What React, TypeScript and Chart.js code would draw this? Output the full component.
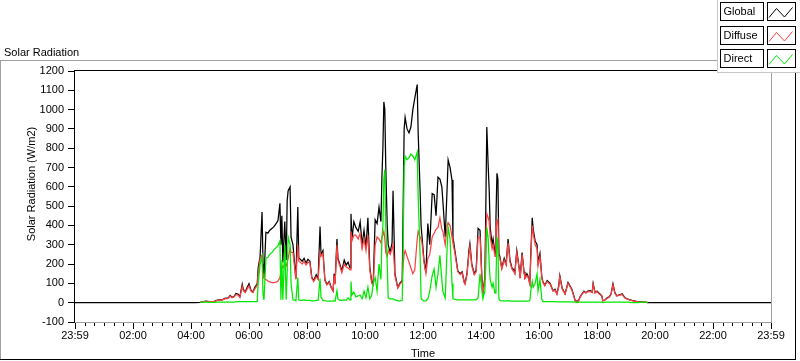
import React, { useEffect, useRef } from "react";
import { Chart, registerables } from "chart.js";

Chart.register(...registerables);

const FONT = "'Liberation Sans', Arial, sans-serif";

// Sample times (minutes after midnight)
const timeMin = [
  0, 248, 259, 265, 271, 279, 288, 296, 304, 310,
  317, 321, 325, 329, 333, 337, 341, 346, 348, 352,
  356, 360, 364, 368, 372, 377, 379, 383, 387, 389,
  391, 395, 399, 403, 408, 412, 416, 420, 424, 426,
  428, 430, 434, 437, 439, 441, 445, 447, 451, 455,
  457, 461, 463, 466, 470, 474, 478, 482, 486, 490,
  494, 499, 503, 507, 509, 513, 517, 521, 526, 530,
  534, 536, 538, 542, 544, 548, 552, 557, 561, 565,
  569, 571, 573, 577, 581, 586, 590, 594, 598, 602,
  606, 610, 614, 617, 621, 625, 629, 633, 635, 637,
  639, 641, 643, 646, 648, 652, 656, 658, 662, 666,
  668, 672, 677, 679, 681, 683, 687, 691, 695, 699,
  703, 708, 710, 714, 716, 718, 722, 726, 730, 734,
  739, 743, 747, 751, 755, 759, 761, 766, 770, 772,
  776, 780, 782, 786, 790, 792, 797, 801, 805, 807,
  811, 815, 817, 821, 826, 830, 834, 838, 842, 844,
  848, 850, 852, 855, 857, 859, 863, 865, 869, 871,
  873, 875, 877, 879, 883, 888, 892, 896, 900, 904,
  908, 910, 914, 919, 921, 925, 929, 931, 935, 937,
  941, 943, 946, 948, 952, 956, 958, 962, 966, 968,
  972, 977, 983, 989, 993, 997, 1001, 1003, 1008, 1014,
  1020, 1024, 1028, 1035, 1039, 1041, 1045, 1049, 1053, 1057,
  1061, 1066, 1070, 1072, 1076, 1080, 1084, 1090, 1092, 1097,
  1101, 1105, 1109, 1113, 1117, 1121, 1126, 1132, 1138, 1144,
  1152, 1163, 1175, 1185, 1190, 1440,
];

const globalW = [
  0, 0, 2, 6, 8, 5, 7, 15, 14, 22,
  25, 38, 28, 32, 48, 45, 30, 95, 70, 55,
  78, 98, 65, 55, 80, 98, 180, 240, 470, 200,
  130, 365, 360, 375, 385, 395, 410, 425, 515, 300,
  450, 210, 420, 220, 530, 580, 600, 340, 300, 180,
  125, 495, 230, 225, 215, 230, 205, 225, 215, 130,
  115, 145, 125, 395, 250, 270, 120, 95, 110, 80,
  62, 150, 100, 330, 230, 200, 165, 220, 195, 210,
  180, 460, 330, 420, 390, 370, 420, 300, 375, 285,
  440, 180, 110, 100, 430, 410, 495, 420, 650, 800,
  1040, 1000, 700, 400, 300, 260, 310, 580, 150, 100,
  80, 100, 115, 500, 900, 960, 900, 880, 910, 1000,
  1060, 1130, 880, 580, 400, 340, 220, 155, 410, 300,
  565, 560, 450, 650, 640, 600, 530, 340, 600, 740,
  700, 635, 340, 270, 200, 165, 150, 160, 110, 100,
  150, 270, 305, 200, 150, 170, 385, 375, 120, 52,
  130, 500, 910, 700, 580, 390, 300, 330, 255, 450,
  670, 640, 255, 240, 180, 230, 200, 330, 220, 180,
  170, 155, 270, 180, 130, 260, 160, 130, 150, 140,
  100, 250, 440, 380, 320, 300, 210, 255, 130, 110,
  90, 115, 100, 62, 70, 46, 90, 140, 75, 46,
  105, 88, 70, 10, 10, 5, 30, 46, 60, 52,
  60, 62, 55, 100, 52, 60, 50, 36, 10, 15,
  25, 30, 45, 98, 52, 36, 40, 46, 25, 18,
  12, 6, 4, 0, 0, 0,
];

const diffuseW = [
  null, null, 2, 5, 6, 5, 6, 13, 13, 20,
  22, 35, 26, 30, 42, 40, 28, 85, 65, 52,
  70, 88, 60, 52, 72, 90, 150, 230, 245, 150,
  125, 120, 112, 108, 104, 104, 106, 112, 130, 160,
  190, 180, 200, 190, 210, 230, 280, 260, 260, 170,
  120, 300, 215, 210, 200, 215, 195, 210, 205, 125,
  110, 135, 120, 260, 240, 255, 115, 92, 105, 78,
  60, 140, 95, 300, 220, 190, 155, 200, 185, 180,
  170, 370, 320, 350, 350, 330, 360, 280, 330, 270,
  350, 170, 100, 90, 300, 340, 330, 310, 340, 350,
  370, 330, 260, 240, 270, 250, 280, 300, 140, 95,
  75, 95, 110, 200, 250, 270, 240, 210, 180, 150,
  170, 330, 370, 340, 330, 310, 210, 150, 230, 250,
  340, 360, 380, 390, 440, 380, 370, 300, 400, 415,
  400, 340, 310, 255, 190, 160, 145, 155, 105, 95,
  145, 250, 290, 190, 145, 160, 340, 340, 110, 50,
  120, 350, 460, 440, 420, 340, 280, 300, 240, 380,
  420, 430, 240, 230, 175, 220, 195, 310, 210, 175,
  160, 150, 260, 175, 125, 250, 155, 125, 140, 135,
  95, 230, 400, 360, 300, 280, 190, 240, 125, 105,
  88, 110, 95, 60, 65, 44, 85, 135, 70, 44,
  100, 84, 66, 8, 8, 5, 28, 44, 56, 50,
  57, 58, 52, 95, 50, 57, 47, 34, 9, 14,
  23, 28, 42, 92, 49, 34, 38, 43, 23, 17,
  11, 6, 4, 0, null, null,
];

const directW = [
  null, null, 2, 3, 3, 2, 2, 3, 3, 3,
  3, 3, 3, 3, 4, 5, 5, 5, 5, 5,
  5, 5, 5, 6, 6, 6, 100, 200, 240, 40,
  15, 230, 235, 250, 262, 275, 285, 295, 320, 15,
  220, 15, 300, 15, 160, 340, 300, 100, 15, 12,
  10, 130, 15, 12, 12, 15, 12, 12, 12, 10,
  10, 12, 12, 125, 30, 12, 10, 8, 8, 8,
  8, 10, 8, 62, 20, 12, 12, 15, 12, 25,
  15, 110, 40, 55, 30, 35, 40, 20, 60, 25,
  80, 20, 40, 100, 130, 60, 200, 120, 330, 400,
  640, 690, 400, 200, 25, 20, 20, 20, 15, 12,
  10, 10, 12, 300, 700, 760, 740, 750, 770, 760,
  740, 780, 550, 250, 25, 15, 10, 10, 20, 60,
  140, 175, 80, 150, 245, 120, 60, 25, 290, 390,
  330, 100, 20, 18, 15, 15, 15, 15, 15, 15,
  15, 15, 15, 15, 15, 15, 25, 150, 60, 20,
  60, 200, 390, 330, 200, 120, 80, 100, 50, 120,
  340, 300, 20, 12, 10, 10, 8, 10, 8, 8,
  8, 8, 8, 8, 8, 8, 8, 8, 8, 8,
  10, 60, 110, 80, 100, 150, 60, 120, 15, 5,
  5, 5, 5, 5, 5, 4, 4, 4, 4, 4,
  4, 4, 4, 3, 0, 3, 3, 3, 3, 3,
  3, 3, 3, 3, 3, 3, 3, 3, 0, 3,
  3, 3, 3, 3, 3, 3, 3, 3, 3, 3,
  0, 0, 3, 3, null, null,
];

const seriesNames = ["Global", "Diffuse", "Direct"];
const seriesColors = ["#000000", "#ff4040", "#00e800"];

const xMin = 0;
const xMax = 1440;
const xMinorStep = 20;
const xTickMinutes = [0, 120, 240, 360, 480, 600, 720, 840, 960, 1080, 1200, 1320, 1440];
const xTickLabels = ["23:59", "02:00", "04:00", "06:00", "08:00", "10:00", "12:00", "14:00", "16:00", "18:00", "20:00", "22:00", "23:59"];
const yMin = -100;
const yMax = 1200;
const yStep = 100;

const chartLabel = "Solar Radiation";
const yTitle = "Solar Radiation (W/m2)";
const xTitle = "Time";

const framePlugin = {
  id: "lvFrame",
  afterDraw(chart: any) {
    const ctx = chart.ctx as CanvasRenderingContext2D;
    const a = chart.chartArea;
    const xs = chart.scales.x;
    const seg = (x1: number, y1: number, x2: number, y2: number, color: string) => {
      ctx.strokeStyle = color;
      ctx.beginPath();
      ctx.moveTo(x1, y1);
      ctx.lineTo(x2, y2);
      ctx.stroke();
    };
    ctx.save();
    ctx.lineWidth = 1;
    // outer frame
    seg(0, 60.5, 800, 60.5, "#a0a0a0");
    seg(0.5, 60, 0.5, 360, "#a0a0a0");
    seg(0, 359.5, 796, 359.5, "#000");
    seg(795.5, 60, 795.5, 360, "#000");
    // plot frame
    seg(a.left - 1, a.top - 0.5, a.right + 1, a.top - 0.5, "#000");
    seg(a.left - 0.5, a.top - 1, a.left - 0.5, a.bottom + 1, "#000");
    seg(a.left, a.bottom + 0.5, a.right + 1, a.bottom + 0.5, "#a0a0a0");
    seg(a.right + 0.5, a.top - 1, a.right + 0.5, a.bottom + 1, "#a0a0a0");
    // x ticks (major + minor)
    for (let m = xMin; m <= xMax; m += xMinorStep) {
      const px = Math.round(xs.getPixelForValue(m)) + 0.5;
      const major = xTickMinutes.includes(m);
      seg(px, a.bottom + 1, px, a.bottom + 1 + (major ? 6 : 3), "#000");
    }
    // texts
    ctx.fillStyle = "#000";
    ctx.font = `11px ${FONT}`;
    ctx.textAlign = "left";
    ctx.textBaseline = "alphabetic";
    ctx.fillText(chartLabel, 4, 55.5);
    ctx.textAlign = "center";
    ctx.textBaseline = "middle";
    ctx.fillText(xTitle, (a.left + a.right) / 2, 354);
    ctx.save();
    ctx.translate(32, 184);
    ctx.rotate(-Math.PI / 2);
    ctx.fillText(yTitle, 0, 0);
    ctx.restore();
    // legend panel
    const lx = 717;
    ctx.fillStyle = "#fff";
    ctx.fillRect(lx, 0, 800 - lx, 72);
    seg(lx + 0.5, 0, lx + 0.5, 72, "#c8c8c8");
    seg(lx, 72.5, 800, 72.5, "#c8c8c8");
    seriesNames.forEach((name, i) => {
      const top = Math.round(2 + i * 23.5) + 0.5;
      ctx.strokeStyle = "#000";
      ctx.strokeRect(720.5, top, 43, 18);
      ctx.strokeRect(767.5, top, 28, 18);
      ctx.fillStyle = "#000";
      ctx.textAlign = "left";
      ctx.textBaseline = "middle";
      ctx.fillText(name, 723.5, top + 9.5);
      ctx.strokeStyle = seriesColors[i];
      ctx.beginPath();
      ctx.moveTo(769, top + 15);
      ctx.lineTo(776.5, top + 6);
      ctx.lineTo(784.5, top + 14.5);
      ctx.lineTo(792.5, top + 5);
      ctx.stroke();
    });
    ctx.restore();
  },
};

export default function App() {
  const ref = useRef<HTMLCanvasElement>(null);
  useEffect(() => {
    const canvas = ref.current;
    if (!canvas) return;
    Chart.defaults.font.family = FONT;
    Chart.defaults.font.size = 11;
    Chart.defaults.color = "#000";
    const pts = (vals: (number | null)[]) => timeMin.map((t, i) => ({ x: t, y: vals[i] }));
    const series = [globalW, diffuseW, directW];
    const chart = new Chart(canvas, {
      type: "line",
      data: {
        datasets: series.map((vals, i) => ({
          label: seriesNames[i],
          data: pts(vals) as any,
          borderColor: seriesColors[i],
          backgroundColor: seriesColors[i],
          borderWidth: 1.25,
          pointRadius: 0,
          tension: 0,
          fill: false,
          spanGaps: false,
          order: 3 - i,
        })),
      },
      options: {
        responsive: false,
        maintainAspectRatio: false,
        animation: false,
        devicePixelRatio: 1,
        layout: { padding: { top: 71, right: 29, bottom: 0, left: 0 } },
        plugins: { legend: { display: false }, tooltip: { enabled: false }, title: { display: false } },
        scales: {
          x: {
            type: "linear",
            min: xMin,
            max: xMax,
            afterBuildTicks: (s: any) => {
              s.ticks = xTickMinutes.map((v) => ({ value: v }));
            },
            afterFit: (s: any) => {
              s.height = 39;
            },
            ticks: {
              autoSkip: false,
              maxRotation: 0,
              minRotation: 0,
              padding: 7,
              color: "#000",
              font: { family: FONT, size: 11 },
              callback: (v: any) => {
                const idx = xTickMinutes.indexOf(Number(v));
                return idx >= 0 ? xTickLabels[idx] : "";
              },
            },
            grid: { display: true, drawOnChartArea: false, drawTicks: false },
            border: { display: false },
          },
          y: {
            type: "linear",
            min: yMin,
            max: yMax,
            afterFit: (s: any) => {
              s.width = 75;
            },
            ticks: {
              stepSize: yStep,
              padding: 4,
              color: "#000",
              font: { family: FONT, size: 11 },
              callback: (v: any) => String(v),
            },
            grid: { display: true, drawOnChartArea: false, drawTicks: true, tickLength: 7, color: "#000" },
            border: { display: false },
          },
        },
      },
      plugins: [framePlugin],
    });
    return () => chart.destroy();
  }, []);
  return (
    <div style={{ position: "fixed", left: 0, top: 0, width: 800, height: 361, background: "#fff" }}>
      <canvas ref={ref} width={800} height={361} style={{ display: "block", width: 800, height: 361 }} />
    </div>
  );
}
